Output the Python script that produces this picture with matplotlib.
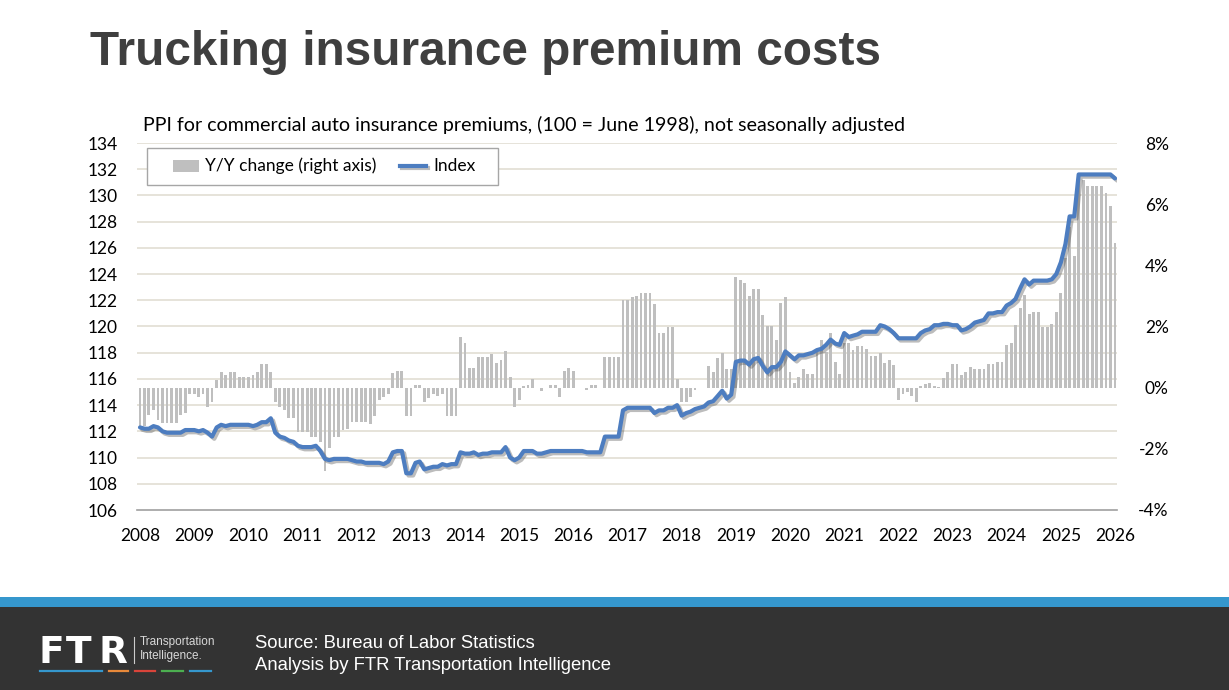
import matplotlib
matplotlib.use('Agg')
import matplotlib.pyplot as plt
import matplotlib.patheffects as pe
from matplotlib.patches import Rectangle
from matplotlib.lines import Line2D
import pandas as pd

# ---------------- data ----------------
start_month = "2008-01-01"
index_values = [
    112.3, 112.2, 112.2, 112.4, 112.3, 112.0, 111.9, 111.9, 111.9, 111.9, 112.1, 112.1,   # 2008
    112.1, 112.0, 112.1, 111.9, 111.6, 112.3, 112.5, 112.4, 112.5, 112.5, 112.5, 112.5,   # 2009
    112.5, 112.4, 112.5, 112.7, 112.7, 113.0, 111.9, 111.6, 111.5, 111.3, 111.2, 110.9,   # 2010
    110.8, 110.8, 110.8, 110.9, 110.5, 109.9, 109.8, 109.9, 109.9, 109.9, 109.9, 109.8,   # 2011
    109.7, 109.7, 109.6, 109.6, 109.6, 109.6, 109.5, 109.7, 110.4, 110.5, 110.5, 108.8,   # 2012
    108.8, 109.6, 109.7, 109.1, 109.2, 109.3, 109.3, 109.5, 109.4, 109.5, 109.5, 110.4,   # 2013
    110.3, 110.3, 110.4, 110.2, 110.3, 110.3, 110.4, 110.4, 110.4, 110.8, 110.0, 109.8,   # 2014
    110.0, 110.5, 110.5, 110.5, 110.3, 110.3, 110.4, 110.5, 110.5, 110.5, 110.5, 110.5,   # 2015
    110.5, 110.5, 110.5, 110.4, 110.4, 110.4, 110.4, 111.6, 111.6, 111.6, 111.6, 113.6,   # 2016
    113.8, 113.8, 113.8, 113.8, 113.8, 113.8, 113.4, 113.6, 113.6, 113.8, 113.8, 114.0,   # 2017
    113.2, 113.4, 113.5, 113.7, 113.8, 113.9, 114.2, 114.3, 114.7, 115.1, 114.5, 114.8,   # 2018
    117.3, 117.4, 117.4, 117.1, 117.5, 117.6, 117.0, 116.5, 116.9, 116.9, 117.3, 118.1,   # 2019
    117.8, 117.5, 117.8, 117.8, 117.9, 118.0, 118.2, 118.3, 118.6, 119.0, 118.7, 118.6,   # 2020
    119.5, 119.2, 119.3, 119.4, 119.6, 119.6, 119.6, 119.6, 120.1, 120.0, 119.8, 119.5,   # 2021
    119.1, 119.1, 119.1, 119.1, 119.1, 119.5, 119.7, 119.8, 120.1, 120.1, 120.2, 120.2,   # 2022
    120.1, 120.1, 119.7, 119.8, 120.0, 120.3, 120.4, 120.5, 121.0, 121.0, 121.1, 121.1,   # 2023
    121.6, 121.8, 122.1, 122.9, 123.6, 123.2, 123.5, 123.5, 123.5, 123.5, 123.6, 124.0,   # 2024
    124.9, 126.3, 128.4, 128.4, 131.6, 131.6, 131.6, 131.6, 131.6, 131.6, 131.6, 131.6,   # 2025
    131.3,                                                                               # 2026
]
yoy_change_pct = [
    -1.27, -1.25, -0.89, -0.73, -1.05, -1.16, -1.16, -1.16, -1.16, -0.89, -0.82, -0.22,
    -0.22, -0.29, -0.22, -0.64, -0.46, 0.25, 0.52, 0.41, 0.52, 0.52, 0.36, 0.36,
    0.36, 0.43, 0.52, 0.79, 0.79, 0.52, -0.46, -0.64, -0.73, -1.00, -1.00, -1.44,
    -1.44, -1.44, -1.62, -1.60, -1.79, -2.74, -1.98, -1.62, -1.62, -1.38, -1.36, -1.11,
    -1.11, -1.11, -1.11, -1.19, -0.92, -0.40, -0.29, -0.22, 0.47, 0.54, 0.54, -0.92,
    -0.92, 0.09, 0.09, -0.46, -0.35, -0.20, -0.27, -0.20, -0.92, -0.92, -0.92, 1.66,
    1.47, 0.63, 0.63, 1.01, 1.01, 1.01, 1.10, 0.82, 0.90, 1.20, 0.36, -0.64,
    -0.40, 0.06, 0.09, 0.27, 0.00, -0.10, 0.00, 0.08, 0.08, -0.29, 0.54, 0.63,
    0.54, 0.00, 0.00, -0.08, 0.08, 0.08, 0.00, 1.01, 1.01, 1.01, 1.01, 2.88,
    2.88, 2.97, 3.00, 3.08, 3.08, 3.08, 2.73, 1.79, 1.79, 1.97, 1.97, 0.27,
    -0.46, -0.46, -0.29, -0.08, 0.00, 0.00, 0.71, 0.52, 0.96, 1.14, 0.61, 0.61,
    3.62, 3.53, 3.43, 2.99, 3.24, 3.24, 2.37, 2.01, 2.01, 1.56, 2.78, 2.97,
    0.52, 0.16, 0.34, 0.60, 0.44, 0.44, 1.17, 1.56, 1.17, 1.79, 0.85, 0.44,
    1.47, 1.45, 1.23, 1.36, 1.36, 1.25, 1.03, 1.03, 1.14, 0.82, 0.90, 0.74,
    -0.40, -0.22, -0.15, -0.28, -0.46, 0.05, 0.11, 0.14, 0.05, 0.03, 0.30, 0.52,
    0.76, 0.76, 0.43, 0.50, 0.66, 0.60, 0.61, 0.60, 0.76, 0.79, 0.84, 0.84,
    1.39, 1.45, 2.04, 2.59, 3.02, 2.40, 2.49, 2.49, 1.99, 1.99, 2.07, 2.49,
    3.08, 4.25, 5.25, 4.31, 6.85, 6.78, 6.58, 6.58, 6.58, 6.58, 6.36, 5.93,
    4.73,
]
year_labels = [str(y) for y in range(2008, 2027)]
left_ticks = list(range(106, 135, 2))
right_ticks = [-4, -2, 0, 2, 4, 6, 8]
right_tick_labels = ["-4%", "-2%", "0%", "2%", "4%", "6%", "8%"]

title = "Trucking insurance premium costs"
subtitle = "PPI for commercial auto insurance premiums, (100 = June 1998), not seasonally adjusted"
legend_labels = ["Y/Y change (right axis)", "Index"]
source_lines = ["Source: Bureau of Labor Statistics",
                "Analysis by FTR Transportation Intelligence"]

months = pd.date_range(start_month, periods=len(index_values), freq="MS")
year_ticks = pd.to_datetime([f"{y}-01-01" for y in year_labels])

# ---------------- style ----------------
BLUE = "#4d7dc0"
GRAY_BAR = "#bfbfbf"
GRID = "#dfdbcf"
TXT_FONT = ["Lato", "DejaVu Sans"]
W, H = 1229, 690

fig = plt.figure(figsize=(W / 100, H / 100), dpi=100)
fig.patch.set_facecolor("white")


def fx(px):
    return px / W


def fy(py):
    return 1 - py / H


# plot area: Jan-2008 at x=140, Jan-2026 at x=1115 ; 134 at y=143, 106 at y=510
px_per_day = (1115 - 140) / (year_ticks[-1] - year_ticks[0]).days
x_lo = year_ticks[0] - pd.Timedelta(days=17)
x_hi = year_ticks[-1] + pd.Timedelta(days=16)
ax_left = 140 - 17 * px_per_day
ax_right = 1115 + 16 * px_per_day
ax = fig.add_axes([fx(ax_left), fy(510), (ax_right - ax_left) / W, (510 - 143) / H])
ax2 = ax.twinx()

ax.set_zorder(3)
ax.patch.set_visible(False)
ax2.set_zorder(2)

# bars (right axis)
ax2.bar(months, yoy_change_pct, width=19, color=GRAY_BAR, zorder=2, linewidth=0)
ax2.set_ylim(-4, 8)
ax2.set_yticks(right_ticks)
ax2.set_yticklabels(right_tick_labels, family=TXT_FONT, fontsize=12.5)
for lbl in ax2.get_yticklabels():
    lbl.set_horizontalalignment("right")
ax2.tick_params(axis="y", length=0, pad=37)

# gridlines at the left-axis ticks (drawn behind the bars)
for v in left_ticks[1:]:
    gy = -4 + (v - 106) * 12 / 28
    ax2.axhline(gy, color=GRID, lw=1.1, zorder=0)

# index line (left axis)
ax.plot(months, index_values, color=BLUE, lw=3.0, solid_joinstyle="round",
        solid_capstyle="round", zorder=4,
        path_effects=[pe.SimpleLineShadow(offset=(1.6, -1.6), shadow_color="#404040", alpha=0.35),
                      pe.Normal()])
ax.set_ylim(106, 134)
ax.set_yticks(left_ticks)
ax.set_yticklabels([str(t) for t in left_ticks], family=TXT_FONT, fontsize=12.5)
ax.tick_params(axis="y", length=0, pad=14)
ax.set_xlim(x_lo, x_hi)
ax.set_xticks(year_ticks)
ax.set_xticklabels(year_labels, family=TXT_FONT, fontsize=12.5)
ax.tick_params(axis="x", length=0, pad=13)

for a in (ax, ax2):
    for s in ("left", "right", "top", "bottom"):
        a.spines[s].set_visible(False)
ax.spines["bottom"].set_visible(True)
ax.spines["bottom"].set_color("#a0a0a0")
ax.spines["bottom"].set_linewidth(1.2)
ax2.tick_params(axis="x", length=0)

# ---------------- legend (boxed, upper left) ----------------
fig.patches.append(Rectangle((fx(147), fy(185)), fx(498) - fx(147), fy(148) - fy(185),
                             transform=fig.transFigure, facecolor="white",
                             edgecolor="#a6a6a6", lw=1.0, zorder=10))
fig.patches.append(Rectangle((fx(173), fy(172)), fx(199) - fx(173), fy(160) - fy(172),
                             transform=fig.transFigure, facecolor=GRAY_BAR,
                             edgecolor="none", zorder=11))
fig.lines.append(Line2D([fx(400), fx(426)], [fy(166), fy(166)], transform=fig.transFigure,
                        color=BLUE, lw=3.0, zorder=11,
                        path_effects=[pe.SimpleLineShadow(offset=(1.4, -1.4), shadow_color="#404040",
                                                          alpha=0.35), pe.Normal()]))
fig.text(fx(205), fy(166), legend_labels[0], family=TXT_FONT, fontsize=12.5,
         ha="left", va="center", zorder=12)
fig.text(fx(433), fy(166), legend_labels[1], family=TXT_FONT, fontsize=12.5,
         ha="left", va="center", zorder=12)

# ---------------- titles ----------------
t_title = fig.text(fx(90), fy(65), title, family=["Liberation Sans", "DejaVu Sans"],
                   fontweight="bold", fontsize=34, color="#3f3f3f", ha="left", va="baseline")
t_sub = fig.text(fx(143), fy(131), subtitle, family=TXT_FONT, fontsize=13.5,
                 color="black", ha="left", va="baseline")

# ---------------- footer ----------------
fig.patches.append(Rectangle((0, 0), 1, fy(607), transform=fig.transFigure,
                             facecolor="#333333", edgecolor="none", zorder=0))
fig.patches.append(Rectangle((0, fy(607)), 1, fy(597) - fy(607), transform=fig.transFigure,
                             facecolor="#3597cd", edgecolor="none", zorder=0))

logo_font = ["DejaVu Sans"]
for ch, xp in zip("FTR", [39, 66, 98]):
    fig.text(fx(xp), fy(663), ch, family=logo_font, fontweight="heavy", fontsize=27,
             color="white", ha="left", va="baseline")
fig.lines.append(Line2D([fx(134), fx(134)], [fy(637), fy(663)], transform=fig.transFigure,
                        color="#cccccc", lw=0.8))
fig.text(fx(140), fy(645), "Transportation", family=["Liberation Sans Narrow", "Liberation Sans"],
         fontsize=8.5, color="#d8d8d8", ha="left", va="baseline")
fig.text(fx(140), fy(659), "Intelligence.", family=["Liberation Sans Narrow", "Liberation Sans"],
         fontsize=8.5, color="#d8d8d8", ha="left", va="baseline")
for (x0, x1), c in zip([(40, 102), (109, 128), (135, 155), (162, 183), (190, 211)],
                       ["#3597cd", "#e8893a", "#d9443a", "#4caf50", "#3597cd"]):
    fig.lines.append(Line2D([fx(x0), fx(x1)], [fy(671), fy(671)], transform=fig.transFigure,
                            color=c, lw=1.6))

t_s1 = fig.text(fx(255), fy(647.5), source_lines[0], family=["Liberation Sans", "DejaVu Sans"],
                fontsize=13.3, color="white", ha="left", va="baseline")
t_s2 = fig.text(fx(255), fy(669.5), source_lines[1], family=["Liberation Sans", "DejaVu Sans"],
                fontsize=13.3, color="white", ha="left", va="baseline")

# fit a few text widths to the reference
fig.canvas.draw()
r = fig.canvas.get_renderer()
for t, target in [(t_title, 882 - 90), (t_sub, 907 - 143), (t_s2, 613 - 255)]:
    w = t.get_window_extent(renderer=r).width
    t.set_fontsize(t.get_fontsize() * target / w)
t_s1.set_fontsize(t_s2.get_fontsize())

fig.savefig("out.png", dpi=100, facecolor="white")
